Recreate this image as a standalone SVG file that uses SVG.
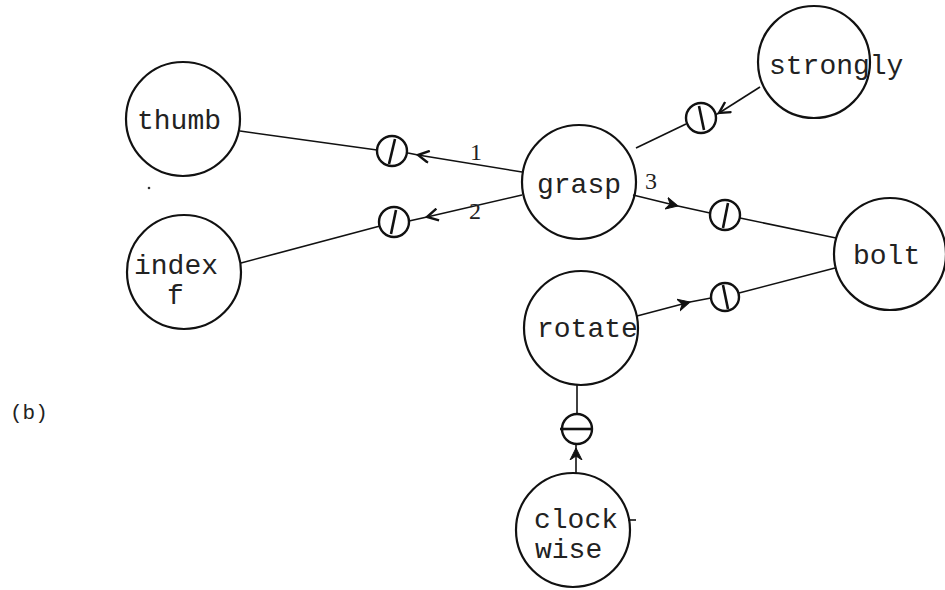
<svg xmlns="http://www.w3.org/2000/svg" width="945" height="590" viewBox="0 0 945 590">
<defs>
<style>
.node{fill:none;stroke:#111;stroke-width:2.2}
.flt{fill:#fff;stroke:#111;stroke-width:2.4}
.bar{stroke:#111;stroke-width:2.6;fill:none}
.con{stroke:#111;stroke-width:1.6;fill:none}
.lbl{font-family:"Liberation Mono","DejaVu Sans Mono",monospace;font-size:28px;fill:#222}
.num{font-family:"Liberation Serif","DejaVu Serif",serif;font-size:24px;fill:#222}
</style>
<marker id="open" viewBox="0 -7 14 14" markerWidth="14" markerHeight="14" refX="12" refY="0" orient="auto" markerUnits="userSpaceOnUse">
<path d="M1,-6 L12,0 L1,6" fill="none" stroke="#111" stroke-width="2.4"/>
</marker>
<marker id="solid" viewBox="0 -7 14 14" markerWidth="14" markerHeight="14" refX="12" refY="0" orient="auto" markerUnits="userSpaceOnUse">
<path d="M0,-6 L12,0 L0,6 L4,0 z" fill="#111" stroke="#111" stroke-width="1"/>
</marker>
</defs>
<rect width="945" height="590" fill="#fff"/>
<g id="connectors">
<line class="con" x1="240" y1="131" x2="377" y2="150"/>
<path class="con" d="M522,172 L418,155" marker-end="url(#open)"/>
<line class="con" x1="418" y1="155" x2="408" y2="153"/>
<line class="con" x1="241" y1="263" x2="380" y2="226"/>
<path class="con" d="M522,195 L427,217" marker-end="url(#open)"/>
<line class="con" x1="427" y1="217" x2="409" y2="221"/>
<path class="con" d="M760,87 L719,113" marker-end="url(#open)"/>
<line class="con" x1="719" y1="113" x2="715" y2="115"/>
<line class="con" x1="686" y1="124" x2="636" y2="148"/>
<path class="con" d="M633,195 L678,206" marker-end="url(#solid)"/>
<line class="con" x1="678" y1="206" x2="710" y2="213"/>
<line class="con" x1="740" y1="218" x2="836" y2="238"/>
<path class="con" d="M637,316 L690,302" marker-end="url(#solid)"/>
<line class="con" x1="690" y1="302" x2="711" y2="298"/>
<line class="con" x1="739" y1="293" x2="835" y2="268"/>
<line class="con" x1="577" y1="385" x2="577" y2="414"/>
<path class="con" d="M576,473 L576,448" marker-end="url(#solid)"/>
<line class="con" x1="576" y1="448" x2="576" y2="444"/>
</g>
<g id="f1"><circle class="flt" cx="392" cy="151" r="15"/><line class="bar" x1="395" y1="139" x2="389" y2="164"/></g>
<g id="f2"><circle class="flt" cx="394" cy="222" r="15"/><line class="bar" x1="396" y1="210" x2="391" y2="234"/></g>
<g id="f3"><circle class="flt" cx="701" cy="118" r="15"/><line class="bar" x1="699" y1="106" x2="704" y2="130"/></g>
<g id="f4"><circle class="flt" cx="725" cy="215" r="15"/><line class="bar" x1="728" y1="203" x2="723" y2="228"/></g>
<g id="f5"><circle class="flt" cx="725" cy="297" r="14"/><line class="bar" x1="723" y1="285" x2="728" y2="309"/></g>
<g id="f6"><circle class="flt" cx="577" cy="429" r="15"/><line class="bar" x1="560" y1="429" x2="592" y2="429"/></g>
<g id="thumb"><circle class="node" cx="183" cy="119" r="57"/><text class="lbl" x="137" y="129">thumb</text></g>
<g id="index"><circle class="node" cx="184" cy="272" r="57"/><text class="lbl" x="134" y="274">index</text><text class="lbl" x="167" y="304">f</text></g>
<g id="grasp"><circle class="node" cx="579" cy="182" r="57"/><text class="lbl" x="537" y="193">grasp</text></g>
<g id="strongly"><circle class="node" cx="814" cy="62" r="56"/><text class="lbl" x="769" y="74">strongly</text></g>
<g id="bolt"><circle class="node" cx="890" cy="254" r="56"/><text class="lbl" x="853" y="264">bolt</text></g>
<g id="rotate"><circle class="node" cx="581" cy="328" r="57"/><text class="lbl" x="537" y="337">rotate</text></g>
<g id="clockwise"><circle class="node" cx="573" cy="530" r="57"/><line class="con" x1="628" y1="520" x2="636" y2="520"/><text class="lbl" x="534" y="528">clock</text><text class="lbl" x="535" y="558">wise</text></g>
<text class="num" x="470" y="160">1</text>
<text class="num" x="469" y="219">2</text>
<text class="num" x="645" y="189">3</text>
<circle cx="149" cy="188" r="1.3" fill="#333"/>
<text x="10" y="419" font-family="Liberation Mono, monospace" font-size="21" fill="#222">(b)</text>
</svg>
